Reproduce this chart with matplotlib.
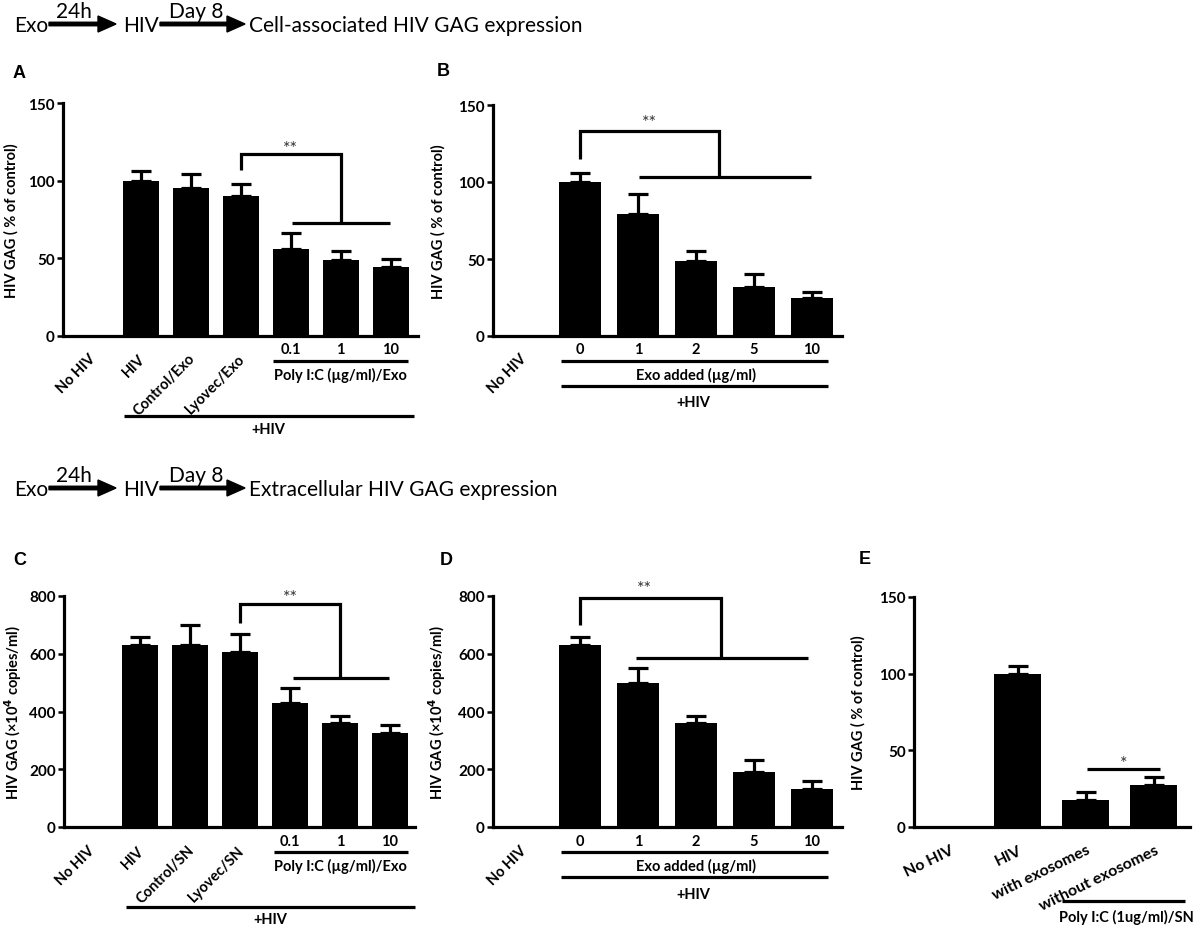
"""Exosome / HIV GAG expression bar panels (A-E)."""

import matplotlib
matplotlib.use("Agg")
import matplotlib.pyplot as plt
import numpy as np
from matplotlib.transforms import blended_transform_factory

plt.rcParams["font.family"] = ["Lato", "DejaVu Sans"]
plt.rcParams["font.weight"] = "bold"

W, H = 1196, 929

# ---- data -------------------------------------------------------------
A_LABELS = ["No HIV", "HIV", "Control/Exo", "Lyovec/Exo"]
A_DOSES = ["0.1", "1", "10"]
A_VALUES = [0, 100, 95.5, 90, 56, 49, 44.5]
A_ERR = [0, 6.5, 8.5, 8, 10.5, 6, 5]

B_DOSES = ["0", "1", "2", "5", "10"]
B_VALUES = [0, 100, 79, 49, 32, 25]
B_ERR = [0, 6, 13, 6, 8, 3.5]

C_LABELS = ["No HIV", "HIV", "Control/SN", "Lyovec/SN"]
C_DOSES = ["0.1", "1", "10"]
C_VALUES = [0, 632, 632, 605, 429, 360, 325]
C_ERR = [0, 27, 67, 65, 53, 25, 29]

D_DOSES = ["0", "1", "2", "5", "10"]
D_VALUES = [0, 632, 500, 360, 190, 130]
D_ERR = [0, 26, 49, 25, 42, 31]

E_LABELS = ["No HIV", "HIV", "with exosomes", "without exosomes"]
E_VALUES = [0, 100, 17.6, 27.3]
E_ERR = [0, 5, 5, 5.4]

LW = 2.3
FS = 10.5


def add_px_axes(fig, left, top, right, bottom):
    return fig.add_axes([left / W, 1 - bottom / H, (right - left) / W, (bottom - top) / H])


def bar_panel(ax, values, errs, width, xlim, ymax, yticks, ylabel, label_x):
    x = np.arange(len(values))
    vals = np.asarray(values, dtype=float)
    err = np.asarray(errs, dtype=float)
    keep = vals > 0
    ax.bar(x[keep], vals[keep], width=width, color="black", linewidth=0,
           yerr=[np.zeros(keep.sum()), err[keep]],
           error_kw=dict(ecolor="black", elinewidth=LW, capsize=7, capthick=LW))
    ax.set_xlim(*xlim)
    ax.set_ylim(0, ymax)
    ax.set_yticks(yticks)
    for side in ("top", "right"):
        ax.spines[side].set_visible(False)
    for side in ("left", "bottom"):
        ax.spines[side].set_linewidth(LW)
    ax.tick_params(axis="y", direction="out", length=4, width=1.8, labelsize=11, pad=2)
    ax.tick_params(axis="x", length=0, labelbottom=False)
    ax.set_ylabel(ylabel, fontsize=FS, fontweight="bold")
    ax.yaxis.set_label_coords(label_x, 0.5)
    return blended_transform_factory(ax.transData, ax.transAxes)


def under_line(ax, tr, x0, x1, y):
    ax.plot([x0, x1], [y, y], color="black", lw=LW, transform=tr, clip_on=False,
            solid_capstyle="butt")


def under_text(ax, tr, x, y, s, **kw):
    ax.text(x, y, s, transform=tr, ha="center", va="center", fontsize=FS,
            fontweight="bold", clip_on=False, **kw)


def rotated_labels(ax, tr, labels, y, rot, size=FS):
    for i, s in enumerate(labels):
        ax.text(i + 0.05, y, s, transform=tr, rotation=rot, ha="right", va="center",
                rotation_mode="anchor", fontsize=size, fontweight="bold")


def bracket(ax, xs, ys, bar_x, bar_y):
    ax.plot(xs, ys, color="black", lw=LW, clip_on=False, solid_joinstyle="miter",
            solid_capstyle="butt")
    ax.plot(bar_x, [bar_y, bar_y], color="black", lw=LW, clip_on=False,
            solid_capstyle="butt")


def stars(ax, x, y, s):
    ax.text(x, y, s, ha="center", va="center", fontsize=13, fontweight="normal",
            color="#333333", clip_on=False)


fig = plt.figure(figsize=(W / 100, H / 100), dpi=100)

# ---- header rows and panel letters ------------------------------------
hdr = fig.add_axes([0, 0, 1, 1])
hdr.set_xlim(0, W)
hdr.set_ylim(H, 0)
hdr.axis("off")
hdr.patch.set_alpha(0)

for base, title in ((32, "Cell-associated HIV GAG expression"),
                    (496, "Extracellular HIV GAG expression")):
    arrow_y = base - 7
    hdr.text(14, base, "Exo", fontsize=15, fontweight="normal", va="baseline")
    hdr.arrow(49, arrow_y, 67, 0, width=3.5, head_width=16, head_length=18,
              length_includes_head=True, color="black")
    hdr.text(74, base - 14, "24h", fontsize=15, fontweight="normal", va="baseline", ha="center")
    hdr.text(123, base, "HIV", fontsize=15, fontweight="normal", va="baseline")
    hdr.arrow(160, arrow_y, 85, 0, width=3.5, head_width=16, head_length=18,
              length_includes_head=True, color="black")
    hdr.text(196, base - 14, "Day 8", fontsize=15, fontweight="normal", va="baseline", ha="center")
    hdr.text(249, base, title, fontsize=15, fontweight="normal", va="baseline")

for x, y, letter in ((13, 78, "A"), (437, 76, "B"), (13, 565, "C"), (440, 565, "D"),
                     (859, 564, "E")):
    hdr.text(x, y, letter, fontsize=13, fontweight="bold", va="baseline",
             family=["Liberation Sans", "DejaVu Sans"])

pct = "HIV GAG ( % of control)"
copies = "HIV GAG (×10$^{\\mathbf{4}}$ copies/ml)"

# ---- panel A ----------------------------------------------------------
ax = add_px_axes(fig, 63, 104, 418, 337)
tr = bar_panel(ax, A_VALUES, A_ERR, 0.72, (-0.55, 6.55), 150, [0, 50, 100, 150],
               pct, -0.125)
rotated_labels(ax, tr, A_LABELS, -0.085, 45)
for i, s in enumerate(A_DOSES):
    under_text(ax, tr, 4 + i, -0.056, s)
under_line(ax, tr, 3.64, 6.34, -0.107)
under_text(ax, tr, 5, -0.165, "Poly I:C (µg/ml)/Exo")
under_line(ax, tr, 0.66, 6.46, -0.343)
under_text(ax, tr, 3.56, -0.40, "+HIV")
bracket(ax, [3, 3, 5, 5], [107, 117, 117, 73], [4.03, 5.98], 73)
stars(ax, 4.0, 121, "**")

# ---- panel B ----------------------------------------------------------
ax = add_px_axes(fig, 493, 106, 842, 337)
tr = bar_panel(ax, B_VALUES, B_ERR, 0.72, (-0.5, 5.52), 150, [0, 50, 100, 150],
               pct, -0.137)
rotated_labels(ax, tr, ["No HIV"], -0.085, 45)
for i, s in enumerate(B_DOSES):
    under_text(ax, tr, 1 + i, -0.056, s)
under_line(ax, tr, 0.67, 5.28, -0.108)
under_text(ax, tr, 3.0, -0.165, "Exo added (µg/ml)")
under_line(ax, tr, 0.67, 5.28, -0.216)
under_text(ax, tr, 2.95, -0.286, "+HIV")
bracket(ax, [1, 1, 3.4, 3.4], [115, 133, 133, 103.5], [2.02, 4.98], 103.5)
stars(ax, 2.2, 139, "**")

# ---- panel C ----------------------------------------------------------
ax = add_px_axes(fig, 64, 597, 415, 828)
tr = bar_panel(ax, C_VALUES, C_ERR, 0.72, (-0.52, 6.5), 800, [0, 200, 400, 600, 800],
               copies, -0.115)
rotated_labels(ax, tr, C_LABELS, -0.09, 45)
for i, s in enumerate(C_DOSES):
    under_text(ax, tr, 4 + i, -0.06, s)
under_line(ax, tr, 3.68, 6.36, -0.108)
under_text(ax, tr, 5, -0.165, "Poly I:C (µg/ml)/Exo")
under_line(ax, tr, 0.72, 6.5, -0.346)
under_text(ax, tr, 3.6, -0.40, "+HIV")
bracket(ax, [3, 3, 5, 5], [707, 774, 774, 517], [4.06, 5.98], 517)
stars(ax, 4.0, 798, "**")

# ---- panel D ----------------------------------------------------------
ax = add_px_axes(fig, 493, 597, 842, 828)
tr = bar_panel(ax, D_VALUES, D_ERR, 0.72, (-0.5, 5.52), 800, [0, 200, 400, 600, 800],
               copies, -0.13)
rotated_labels(ax, tr, ["No HIV"], -0.09, 45)
for i, s in enumerate(D_DOSES):
    under_text(ax, tr, 1 + i, -0.06, s)
under_line(ax, tr, 0.67, 5.28, -0.108)
under_text(ax, tr, 3.0, -0.165, "Exo added (µg/ml)")
under_line(ax, tr, 0.67, 5.28, -0.216)
under_text(ax, tr, 2.95, -0.29, "+HIV")
bracket(ax, [1, 1, 3.43, 3.43], [700, 794, 794, 587], [1.97, 4.93], 587)
stars(ax, 2.12, 826, "**")

# ---- panel E ----------------------------------------------------------
ax = add_px_axes(fig, 914, 598, 1190, 828)
tr = bar_panel(ax, E_VALUES, E_ERR, 0.69, (-0.52, 3.53), 150, [0, 50, 100, 150],
               pct, -0.174)
rotated_labels(ax, tr, E_LABELS, -0.095, 26, size=11.5)
under_line(ax, tr, 1.65, 3.46, -0.32)
under_text(ax, tr, 2.6, -0.39, "Poly I:C (1ug/ml)/SN")
ax.plot([2.02, 3.09], [37.7, 37.7], color="black", lw=LW, solid_capstyle="butt")
stars(ax, 2.55, 41.5, "*")

fig.savefig("out.png", dpi=100)
